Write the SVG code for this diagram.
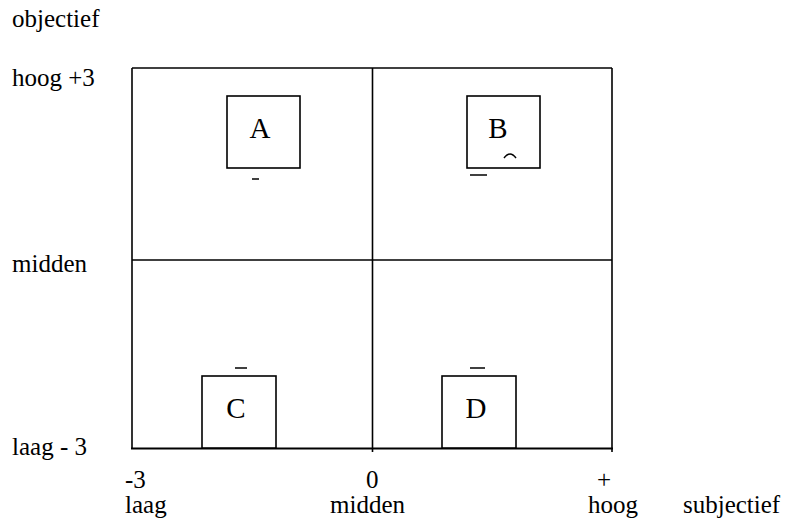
<svg xmlns="http://www.w3.org/2000/svg" width="785" height="522" viewBox="0 0 785 522">
<style>
.lbl{font-family:"Liberation Serif","Times New Roman",serif;font-size:25px;fill:#000}
.box{font-family:"Liberation Serif","Times New Roman",serif;font-size:29px;text-anchor:middle;fill:#000}
.ln{stroke:#000;stroke-width:1.6;fill:none}
.bx{stroke:#000;stroke-width:1.6;fill:#fff}
.mk{stroke:#000;stroke-width:1.5;fill:none}
</style>
<rect width="785" height="522" fill="#fff"/>
<g id="axes-labels">
<text class="lbl" x="12" y="27">objectief</text>
<text class="lbl" x="12" y="86">hoog +3</text>
<text class="lbl" x="12" y="272">midden</text>
<text class="lbl" x="12" y="455">laag - 3</text>
<text class="lbl" x="125" y="488">-3</text>
<text class="lbl" x="125" y="513">laag</text>
<text class="lbl" x="366" y="488">0</text>
<text class="lbl" x="330" y="513">midden</text>
<text class="lbl" x="597" y="488">+</text>
<text class="lbl" x="588" y="513">hoog</text>
<text class="lbl" x="683" y="513">subjectief</text>
</g>
<g id="connectors">
<line class="ln" x1="132" y1="68" x2="612" y2="68"/>
<line class="ln" x1="132" y1="68" x2="132" y2="449"/>
<line class="ln" x1="612" y1="68" x2="612" y2="452"/>
<line class="ln" x1="132" y1="260" x2="612" y2="260"/>
<line class="ln" x1="372.5" y1="68" x2="372.5" y2="452"/>
<line class="ln" x1="131" y1="448.5" x2="613" y2="448.5" style="stroke-width:2"/>
</g>
<g id="node-A">
<rect class="bx" x="227" y="96" width="73" height="72"/>
<text class="box" x="260" y="138">A</text>
<line class="mk" x1="252" y1="179" x2="259" y2="179"/>
</g>
<g id="node-B">
<rect class="bx" x="467" y="96" width="73" height="72"/>
<text class="box" x="498" y="138">B</text>
<path class="mk" d="M504,158 Q510,150 516,158"/>
<line class="mk" x1="470" y1="175" x2="487" y2="175"/>
</g>
<g id="node-C">
<rect class="bx" x="202" y="376" width="74" height="72"/>
<text class="box" x="236" y="418">C</text>
<line class="mk" x1="235" y1="368" x2="247" y2="368"/>
</g>
<g id="node-D">
<rect class="bx" x="442" y="376" width="74" height="72"/>
<text class="box" x="476" y="418">D</text>
<line class="mk" x1="470" y1="368" x2="485" y2="368"/>
</g>
</svg>
